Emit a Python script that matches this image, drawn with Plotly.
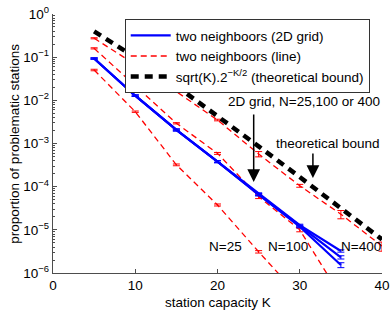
import plotly.graph_objects as go

# ---------------- data ----------------
K = [5, 10, 15, 20, 25, 30, 35]
K_bound = [5, 10, 15, 20, 25, 30, 35, 40]
K_line400 = [5, 10, 15, 20, 25, 30, 35, 40]

grid_N25 = [0.093, 0.0128, 0.00206, 3.8e-4, 6.8e-5, 1.28e-5, 3.24e-6]
grid_N100 = [0.093, 0.0128, 0.00206, 3.8e-4, 6.6e-5, 1.22e-5, 2.31e-6]
grid_N400 = [0.093, 0.0128, 0.00206, 3.8e-4, 6.5e-5, 1.18e-5, 1.53e-6]
grid_err = [0.003, 0.0005, 0.0001, 2.0e-5, 4.0e-6, 7.0e-7, 2.0e-7]

line_N25 = [0.0504, 0.00546, 3.2e-4, 3.77e-5, 3.1e-6, 2.8e-7]
line_N25_err = [0.002, 0.0002, 1.5e-5, 2.0e-6, 2.0e-7, 2.0e-8]
line_N100 = [0.160, 0.0215, 0.00294, 5.9e-4, 5.9e-5, 1.0e-5, 2.9e-7]
line_N100_err = [0.005, 0.0008, 0.0001, 3.0e-5, 6.0e-6, 1.0e-6, 3.0e-8]
line_N400 = [0.274, 0.0677, 0.0159, 0.0035, 5.7e-4, 1.05e-4, 2.3e-5, 4.2e-6]
line_N400_err = [0.008, 0.002, 0.0006, 0.00015, 8.0e-5, 8.0e-6, 5.0e-6, 1.0e-6]

bound = [0.395, 0.0988, 0.0214, 0.00437, 8.6e-4, 1.67e-4, 3.2e-5, 6.0e-6]

y_tickvals = [1e-6, 1e-5, 1e-4, 1e-3, 1e-2, 1e-1, 1]
y_ticktext = ["10<sup>−6</sup>", "10<sup>−5</sup>", "10<sup>−4</sup>", "10<sup>−3</sup>",
              "10<sup>−2</sup>", "10<sup>−1</sup>", "10<sup>0</sup>"]
x_tickvals = [0, 10, 20, 30, 40]

FONT = "Liberation Sans, Arial, Helvetica, sans-serif"
RED = "#ff0000"
BLUE = "#0000ff"
AXC = "#4d4d4d"

fig = go.Figure()

# red dashed (line topology)
for i, (xs, ys, es) in enumerate([(K[:6], line_N25, line_N25_err),
                                   (K, line_N100, line_N100_err),
                                   (K_line400, line_N400, line_N400_err)]):
    fig.add_trace(go.Scatter(
        x=xs, y=ys, mode="lines",
        line=dict(color=RED, width=1.3, dash="6px,4px"),
        error_y=dict(type="data", array=es, color=RED, thickness=1, width=3.5),
        name="two neighboors (line)", legendrank=2,
        showlegend=(i == 0), hoverinfo="skip"))

# blue solid (2D grid)
for i, ys in enumerate([grid_N25, grid_N100, grid_N400]):
    fig.add_trace(go.Scatter(
        x=K, y=ys, mode="lines",
        line=dict(color=BLUE, width=2.2),
        error_y=dict(type="data", array=grid_err, color=BLUE, thickness=1, width=3.5),
        name="two neighboors (2D grid)", legendrank=1,
        showlegend=(i == 0), hoverinfo="skip"))

# black thick dashed theoretical bound
fig.add_trace(go.Scatter(
    x=K_bound, y=bound, mode="lines",
    line=dict(color="black", width=4.5, dash="8px,6px"),
    name="sqrt(K).2<sup>−K/2</sup> (theoretical bound)", legendrank=3,
    hoverinfo="skip"))

annos = [
    dict(x=30.54, y=-2.03, text="2D grid, N=25,100 or 400", showarrow=False),
    dict(x=33.45, y=-3.01, text="theoretical bound", showarrow=False),
    dict(x=21.03, y=-5.39, text="N=25", showarrow=False),
    dict(x=28.53, y=-5.39, text="N=100", showarrow=False),
    dict(x=37.5, y=-5.39, text="N=400", showarrow=False),
    dict(x=24.4, y=-3.89, text="", showarrow=True, ax=0, ay=-69,
         arrowhead=2, arrowsize=1.7, arrowwidth=1.5, arrowcolor="black"),
    dict(x=31.6, y=-3.80, text="", showarrow=True, ax=0, ay=-26,
         arrowhead=2, arrowsize=1.7, arrowwidth=1.5, arrowcolor="black"),
]
for a in annos:
    a.update(xref="x", yref="y", xanchor="center", yanchor="middle",
             font=dict(family=FONT, size=13.5, color="black"))

annos.append(dict(xref="paper", yref="paper", x=-0.118, y=0.5, xanchor="center",
                  yanchor="middle", textangle=-90, showarrow=False,
                  text="proportion of problematic stations",
                  font=dict(family=FONT, size=13.5, color="black")))
annos.append(dict(xref="paper", yref="paper", x=0.5, y=-0.115, xanchor="center",
                  yanchor="middle", showarrow=False, text="station capacity K",
                  font=dict(family=FONT, size=13.5, color="black")))

fig.update_layout(
    width=390, height=313,
    margin=dict(l=53, r=8, t=14, b=40, autoexpand=False),
    paper_bgcolor="white", plot_bgcolor="white",
    font=dict(family=FONT, size=13.5, color="black"),
    annotations=annos,
    legend=dict(x=0.218, y=0.98, xanchor="left", yanchor="top",
                bgcolor="white", bordercolor="#333", borderwidth=1,
                font=dict(family=FONT, size=13.5, color="black"),
                tracegroupgap=0, itemwidth=40),
    xaxis=dict(range=[0, 40], tickvals=x_tickvals, ticks="inside", ticklen=4,
               tickcolor=AXC, showline=True, linecolor=AXC, linewidth=1.2,
               showgrid=False, zeroline=False, mirror=False, automargin=False,
               ticklabeloverflow="allow",
               tickfont=dict(family=FONT, size=13.5, color="black")),
    yaxis=dict(type="log", range=[-6, 0], tickvals=y_tickvals, ticktext=y_ticktext,
               ticks="inside", ticklen=4, tickcolor=AXC, showline=True,
               linecolor=AXC, linewidth=1.2, showgrid=False, zeroline=False,
               automargin=False, ticklabeloverflow="allow",
               tickfont=dict(family=FONT, size=13.5, color="black"),
               minor=dict(ticks="inside", ticklen=2, tickcolor=AXC, dtick="D1",
                          showgrid=False)),
)

# remove the browser's default 8px page margin so the figure fills the window
fig.write_html("out.html",
               config={"displayModeBar": False, "staticPlot": True},
               post_script="document.body.style.margin='0';document.body.style.overflow='hidden';")
